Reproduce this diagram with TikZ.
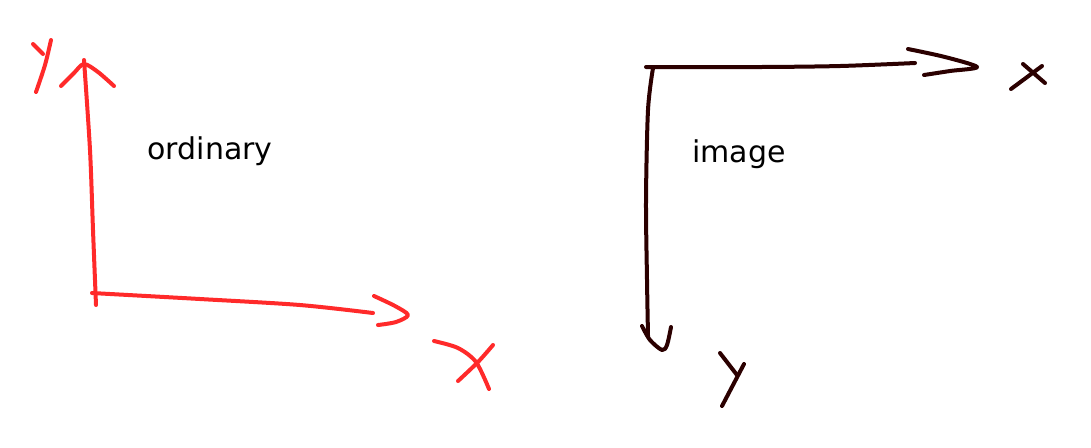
\documentclass[tikz,border=0pt]{standalone}
\usepackage{fontspec}
\setmainfont{DejaVu Sans}
\usepackage{xcolor}
\definecolor{sketchred}{HTML}{FF2A2A}
\definecolor{sketchdark}{HTML}{2B0000}
\begin{document}
\begin{tikzpicture}[
        x=0.5pt, y=-0.5pt,
        redstroke/.style={draw=sketchred, line width=2pt, line cap=round, line join=round},
        darkstroke/.style={draw=sketchdark, line width=2pt, line cap=round, line join=round},
        caption/.style={font=\fontsize{15}{18}\selectfont, inner sep=0pt}
    ]
        \useasboundingbox (0,0) rectangle (1091,447);

        % Left - ordinary axes
        \coordinate (redorigin) at (92,293);
        \coordinate (redytip) at (84,60);
        \coordinate (redxtip) at (373,313);
        \draw[redstroke] plot[smooth] coordinates {(96,305) (93,230) (90,150) (84,60)};
        \draw[redstroke] plot[smooth] coordinates {(redorigin) (200,299) (300,305) (redxtip)};
        % arrow heads
        \draw[redstroke] plot[smooth] coordinates {(61,86) (74,73) (84,64) (98,72) (114,86)};
        \draw[redstroke] plot[smooth] coordinates {(374,296) (395,306) (408,315) (396,322) (378,325)};
        % hand-drawn Y
        \draw[redstroke] (33,44) -- (43,54);
        \draw[redstroke] plot[smooth] coordinates {(51,40) (45,65) (36,92)};
        % hand-drawn X
        \draw[redstroke] plot[smooth] coordinates {(434,341) (458,348) (476,362) (489,389)};
        \draw[redstroke] plot[smooth] coordinates {(493,345) (478,362) (458,381)};

        \node[caption] (ordinary) at (210,151) {ordinary};

        % Right - image axes
        \coordinate (darkorigin) at (646,67);
        \coordinate (darkxtip) at (915,63);
        \coordinate (darkytip) at (648,336);
        \draw[darkstroke] plot[smooth] coordinates {(darkorigin) (760,67) (840,66) (darkxtip)};
        \draw[darkstroke] plot[smooth] coordinates {(653,68) (648,110) (646,200) (647,280) (darkytip)};
        % arrow heads
        \draw[darkstroke] plot[smooth] coordinates {(908,49) (945,57) (977,67) (950,71) (924,75)};
        \draw[darkstroke] plot[smooth] coordinates {(642,326) (650,340) (662,350) (667,345) (671,327)};
        % hand-drawn X
        \draw[darkstroke] (1023,64) -- (1045,83);
        \draw[darkstroke] (1042,66) -- (1011,89);
        % hand-drawn Y
        \draw[darkstroke] (720,353) -- (737,375);
        \draw[darkstroke] (744,364) -- (722,406);

        \node[caption] (image) at (739,154) {image};
    \end{tikzpicture}
\end{document}
